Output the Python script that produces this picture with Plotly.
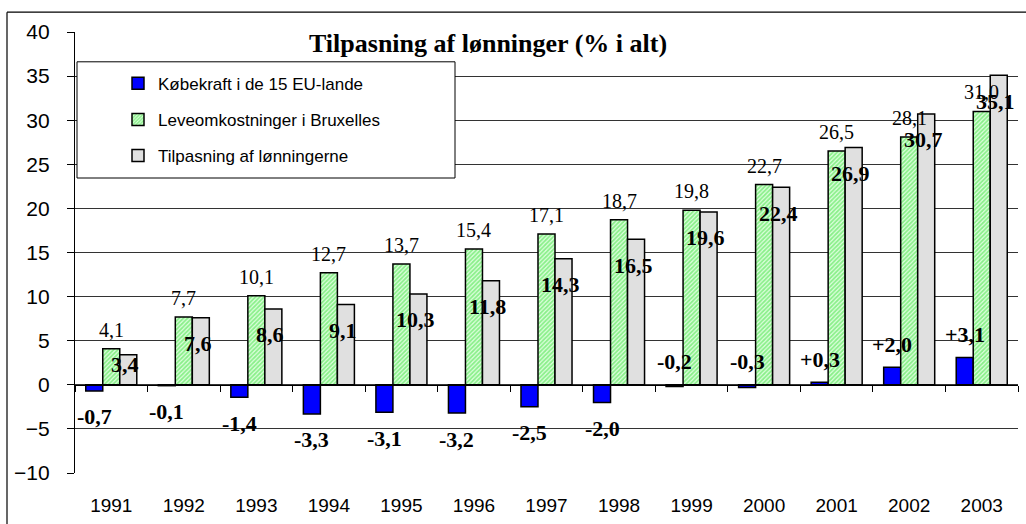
import plotly.graph_objects as go

years = ["1991", "1992", "1993", "1994", "1995", "1996", "1997",
         "1998", "1999", "2000", "2001", "2002", "2003"]
kobekraft = [-0.7, -0.1, -1.4, -3.3, -3.1, -3.2, -2.5, -2.0, -0.2, -0.3, 0.3, 2.0, 3.1]
leveomk = [4.1, 7.7, 10.1, 12.7, 13.7, 15.4, 17.1, 18.7, 19.8, 22.7, 26.5, 28.1, 31.0]
tilpasning = [3.4, 7.6, 8.6, 9.1, 10.3, 11.8, 14.3, 16.5, 19.6, 22.4, 26.9, 30.7, 35.1]

names = ["Købekraft i de 15 EU-lande", "Leveomkostninger i Bruxelles", "Tilpasning af lønningerne"]
title_text = "Tilpasning af lønninger (% i alt)"

# layout constants (pixels)
L, R, T, B = 75, 8, 32, 48
W, H = 1026, 524
pw, ph = W - L - R, H - T - B
ymin, ymax = -10, 40
px_per_unit = ph / (ymax - ymin)

BW = 0.2345
xs = list(range(len(years)))

def fmt(v, sign=False):
    s = f"{abs(v):.1f}".replace(".", ",")
    if sign:
        s = ("+" if v > 0 else "-") + s
    return s

fig = go.Figure()
line = dict(color="black", width=1.5)
fig.add_trace(go.Bar(x=xs, y=kobekraft, width=BW, offset=-1.5 * BW, name=names[0],
                     marker=dict(color="#0000FF", line=line), legendgroup="a"))
fig.add_trace(go.Bar(x=xs, y=leveomk, width=BW, offset=-0.5 * BW, name=names[1],
                     marker=dict(color="#DDFFDD", line=line,
                                 pattern=dict(shape="/", fgcolor="#33E033", bgcolor="#E0FFE0",
                                              size=3, solidity=0.6)),
                     legendgroup="b"))
fig.add_trace(go.Bar(x=xs, y=tilpasning, width=BW, offset=0.5 * BW, name=names[2],
                     marker=dict(color="#E0E0E0", line=line), legendgroup="c"))
# helper trace for the axis drawn at y = 0
fig.add_trace(go.Scatter(x=[None], y=[None], xaxis="x2", showlegend=False, hoverinfo="skip"))

ann = []
serif = "Liberation Serif, Times New Roman, serif"
for i, v in enumerate(leveomk):
    ann.append(dict(x=i, y=v, text=fmt(v), showarrow=False, yanchor="bottom", yshift=6,
                    font=dict(family=serif, size=20, color="black")))
for i, v in enumerate(tilpasning):
    yy = max(v - 26 / px_per_unit, 20 / px_per_unit)
    ann.append(dict(x=i + BW, y=yy, text="<b>" + fmt(v) + "</b>", showarrow=False,
                    yanchor="middle", xshift=-3,
                    font=dict(family=serif, size=22, color="black")))
for i, v in enumerate(kobekraft):
    above = int(years[i]) >= 1999
    if above:
        ann.append(dict(x=i - BW, y=max(v, 0), text="<b>" + fmt(v, True) + "</b>", showarrow=False,
                        yanchor="middle", yshift=23,
                        font=dict(family=serif, size=22, color="black")))
    else:
        ann.append(dict(x=i - BW, y=v, text="<b>" + fmt(v, True) + "</b>", showarrow=False,
                        yanchor="middle", yshift=-26,
                        font=dict(family=serif, size=22, color="black")))
ann.append(dict(x=(488 - L) / pw, y=(H - B - 44) / ph, xref="paper", yref="paper",
                xanchor="center", yanchor="middle",
                text="<b>" + title_text + "</b>", showarrow=False,
                font=dict(family=serif, size=26, color="black")))

def px2paper_x(p):
    return (p - L) / pw

def px2paper_y(p):
    return (H - B - p) / ph

shapes = [
    # legend box
    dict(type="rect", xref="paper", yref="paper", x0=px2paper_x(77), x1=px2paper_x(455),
         y0=px2paper_y(179), y1=px2paper_y(62), fillcolor="white",
         line=dict(color="black", width=1), layer="above"),
    # outer frame: only the left and top edges are inside the picture
    dict(type="line", xref="paper", yref="paper", x0=px2paper_x(7), x1=px2paper_x(7),
         y0=px2paper_y(H + 20), y1=px2paper_y(12), line=dict(color="black", width=1.2),
         layer="above"),
    dict(type="line", xref="paper", yref="paper", x0=px2paper_x(7), x1=px2paper_x(W + 20),
         y0=px2paper_y(12), y1=px2paper_y(12), line=dict(color="black", width=1.2),
         layer="above"),
]

fig.update_layout(
    width=W, height=H,
    margin=dict(l=L, r=R, t=T, b=B),
    paper_bgcolor="white", plot_bgcolor="white",
    barmode="overlay",
    annotations=ann, shapes=shapes,
    font=dict(family="Liberation Sans, Arial, sans-serif", color="black"),
    legend=dict(x=px2paper_x(118), y=px2paper_y(66), xanchor="left", yanchor="top",
                bgcolor="rgba(0,0,0,0)", borderwidth=0,
                font=dict(family="Liberation Sans, Arial, sans-serif", size=17, color="black"),
                tracegroupgap=11, traceorder="grouped"),
    xaxis=dict(range=[-0.5, 12.5], tickvals=xs, ticktext=years, ticks="", showgrid=False,
               showline=False, zeroline=False, ticklabelstandoff=19,
               tickfont=dict(size=19, color="black")),
    xaxis2=dict(overlaying="x", anchor="free", position=(0 - ymin) / (ymax - ymin),
                range=[-0.5, 12.5], tickvals=[k - 0.5 for k in range(len(years) + 1)],
                ticks="outside", ticklen=6, tickcolor="black", tickwidth=1,
                showline=True, linecolor="black", linewidth=1.3,
                showticklabels=False, showgrid=False, zeroline=False),
    yaxis=dict(range=[ymin, ymax], dtick=5, tick0=0, showgrid=True, gridcolor="#333333",
               gridwidth=1, zeroline=False, showline=True, linecolor="black", linewidth=1.3,
               ticks="outside", ticklen=7, tickcolor="black", ticklabelstandoff=13,
               tickfont=dict(size=21, color="black")),
)

fig.write_html("out.html", config={"displayModeBar": False},
               post_script="document.body.style.margin='0';document.body.style.overflow='hidden';")
